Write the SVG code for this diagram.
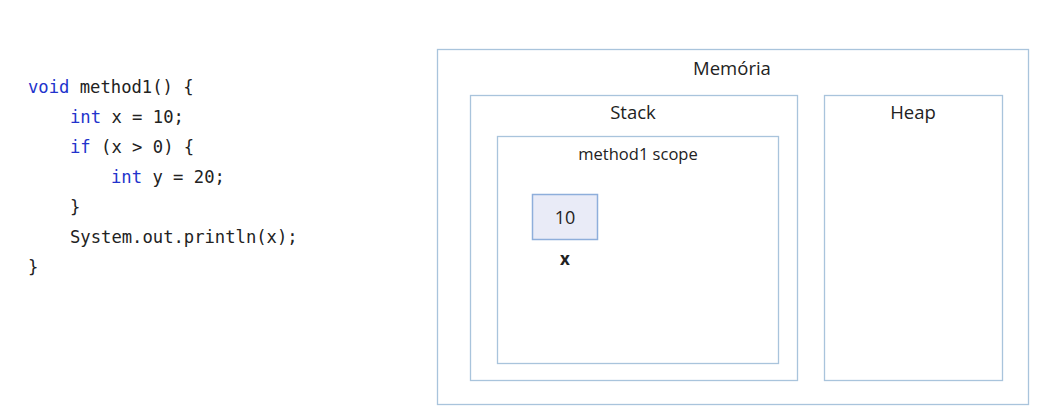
<svg xmlns="http://www.w3.org/2000/svg" width="1044" height="416" viewBox="0 0 1044 416">
<style>
.box{fill:#ffffff;stroke:#a9c4dc;stroke-width:1.3}
.cell{fill:#e9ebf7;stroke:#8eaedb;stroke-width:1.5}
.lbl{font-family:"Open Sans","Noto Sans",sans-serif;fill:#222222;text-anchor:middle}
.code{font-family:"DejaVu Sans Mono","Liberation Mono",monospace;font-size:17.2px;fill:#222222;white-space:pre}
.kw{fill:#2233cc}
</style>
<rect width="1044" height="416" fill="#ffffff"/>
<g id="code">
<text class="code" x="28" y="93"><tspan class="kw">void</tspan> method1() {</text>
<text class="code" x="70" y="123"><tspan class="kw">int</tspan> x = 10;</text>
<text class="code" x="70" y="153"><tspan class="kw">if</tspan> (x &gt; 0) {</text>
<text class="code" x="111" y="183"><tspan class="kw">int</tspan> y = 20;</text>
<text class="code" x="70" y="213">}</text>
<text class="code" x="70" y="243">System.out.println(x);</text>
<text class="code" x="28" y="273">}</text>
</g>
<g id="memoria">
<rect class="box" x="437.5" y="49.5" width="591" height="355"/>
<text class="lbl" x="732" y="75" font-size="18.5">Memória</text>
</g>
<g id="stack">
<rect class="box" x="470.5" y="95.5" width="327" height="285"/>
<text class="lbl" x="633" y="119" font-size="18.5">Stack</text>
</g>
<g id="heap">
<rect class="box" x="824.5" y="95.5" width="178" height="285"/>
<text class="lbl" x="913" y="119" font-size="18.5">Heap</text>
</g>
<g id="scope">
<rect class="box" x="497.5" y="136.5" width="281" height="227"/>
<text class="lbl" x="638" y="160" font-size="16.5">method1 scope</text>
</g>
<g id="var-x">
<rect class="cell" x="532.5" y="194.5" width="65" height="45"/>
<text class="lbl" x="565" y="224" font-size="18">10</text>
<text class="lbl" x="565" y="265" font-size="17" font-weight="bold" fill="#111111">x</text>
</g>
<g id="connectors"></g>
</svg>
